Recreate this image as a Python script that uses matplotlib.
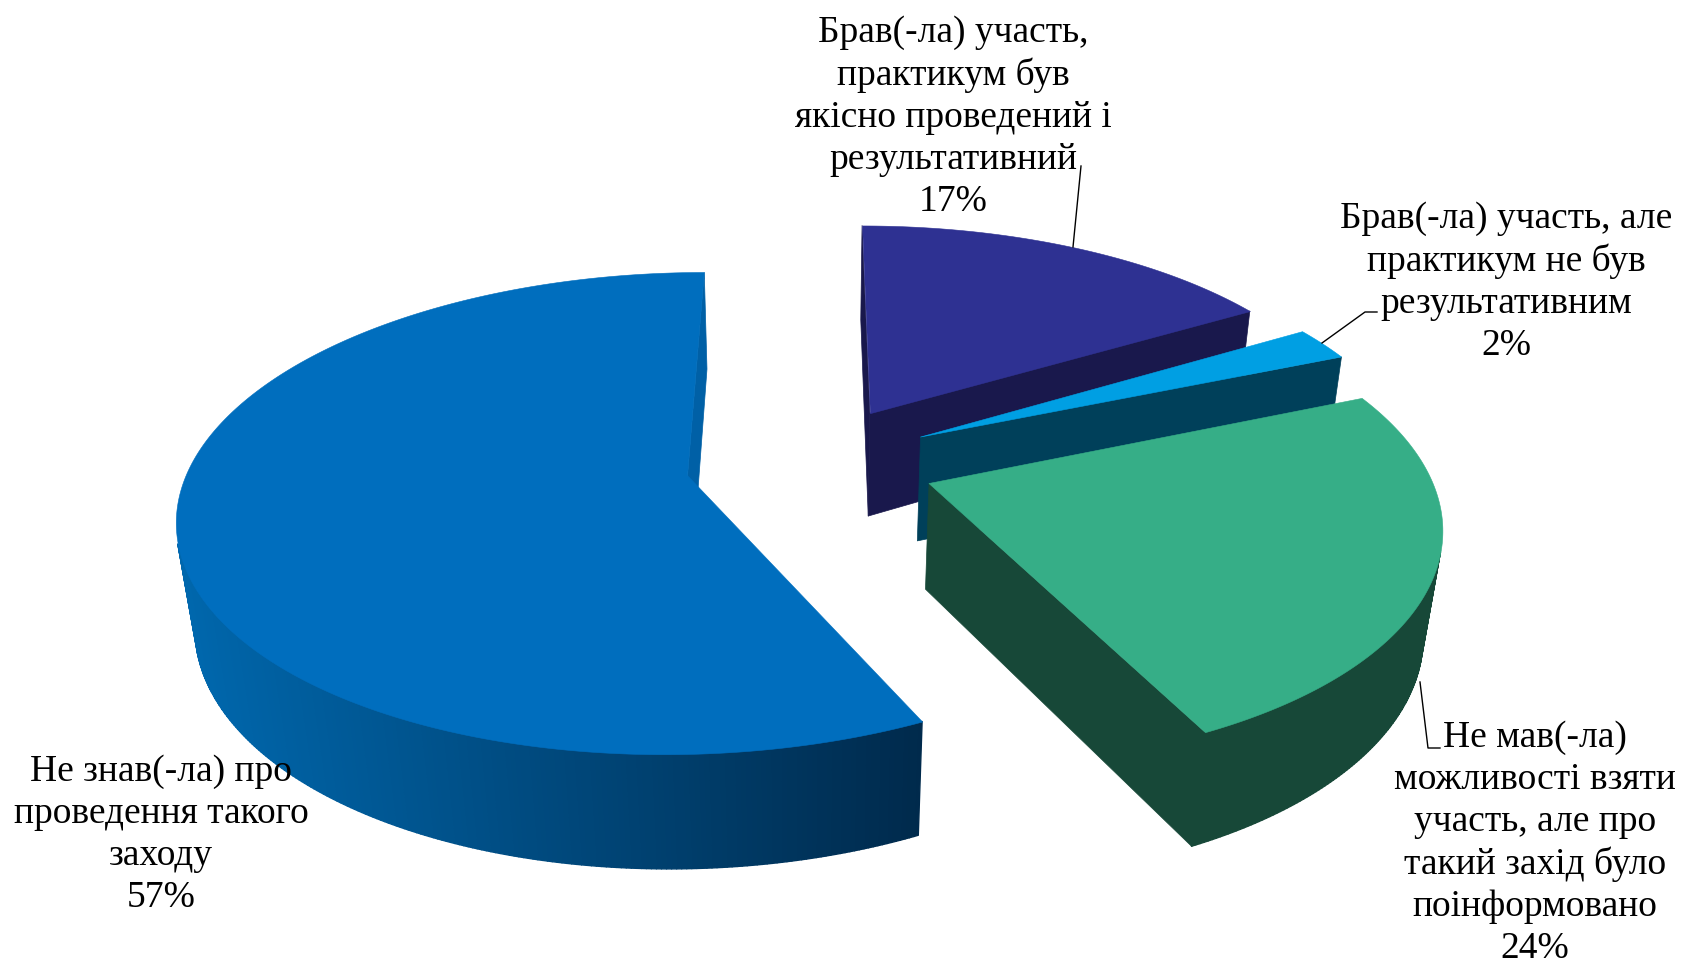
import numpy as np
import matplotlib
matplotlib.use('Agg')
import matplotlib.pyplot as plt
from matplotlib.collections import PolyCollection
from matplotlib.colors import to_rgb

# shares in drawing order, clockwise from 12 o'clock
shares = [16.5, 2.3, 24.0, 57.2]
percent_labels = ['17%', '2%', '24%', '57%']
labels = [
    'Брав(-ла) участь,\nпрактикум був\nякісно проведений і\nрезультативний',
    'Брав(-ла) участь, але\nпрактикум не був\nрезультативним',
    'Не мав(-ла)\nможливості взяти\nучасть, але про\nтакий захід було\nпоінформовано',
    'Не знав(-ла) про\nпроведення такого\nзаходу',
]
top_colors = ['#2E3192', '#009FE3', '#36AE87', '#006EBE']
side_colors = ['#19184C', '#00405A', '#174838', None]
big_side_left = '#0068AE'
big_side_right = '#002A4C'
big_cut = '#0060A6'

# camera
px, py = 810, 462
ax_x, ax_y, ax_z = 497, 231, 108
k_y, k_z = 0.156, 0.03
explode = 0.2516


def project(x, y, z):
    s = 1 / (1 + k_y * y + k_z * z)
    return px + ax_x * x * s, py + (-ax_y * y + ax_z * z) * s


def quad(a, b):
    xa, ya = a
    xb, yb = b
    return [project(xa, ya, 0), project(xb, yb, 0), project(xb, yb, 1), project(xa, ya, 1)]


def facing(q):
    q = np.array(q)
    x, y = q[:, 0], q[:, 1]
    return np.sum(x * np.roll(y, -1) - np.roll(x, -1) * y) < 0


def draw_slice(ax, start, end, top, side):
    mid = np.radians((start + end) / 2)
    cx, cy = explode * np.sin(mid), explode * np.cos(mid)
    th = np.radians(np.linspace(start, end, max(int(end - start) * 2, 8)))
    rim = [(cx + np.sin(t), cy + np.cos(t)) for t in th]

    # walls, only those turned to the camera
    cuts = [quad((cx, cy), rim[0]), quad(rim[-1], (cx, cy))]
    cuts = [w for w in cuts if facing(w)]
    walls = [quad(a, b) for a, b in zip(rim[:-1], rim[1:])]
    walls = [w for w in walls if facing(w)]
    if side is None:
        left, right = np.array(to_rgb(big_side_left)), np.array(to_rgb(big_side_right))
        colors = []
        for w in walls:
            f = np.clip((np.mean([p[0] for p in w]) - 180) / 740, 0, 1)
            colors.append(left + (right - left) * f)
        cut_color = big_cut
    else:
        colors = [side] * len(walls)
        cut_color = side
    ax.add_collection(PolyCollection(cuts, facecolors=cut_color, edgecolors=cut_color, linewidths=0.5))
    ax.add_collection(PolyCollection(walls, facecolors=colors, edgecolors=colors, linewidths=1.0))

    outline = [project(cx, cy, 0)] + [project(x, y, 0) for x, y in rim]
    ax.add_collection(PolyCollection([outline], facecolors=top, edgecolors=top, linewidths=0.4))


plt.rcParams['font.family'] = ['Liberation Serif', 'DejaVu Serif']
fig = plt.figure(figsize=(16.82, 9.66), dpi=100)
ax = fig.add_axes([0, 0, 1, 1])
ax.set_xlim(0, 1682)
ax.set_ylim(966, 0)
ax.axis('off')

edges = np.cumsum([0] + shares) / sum(shares) * 360
for i in range(len(shares)):
    draw_slice(ax, edges[i], edges[i + 1], top_colors[i], side_colors[i])

# leader lines
ax.plot([1081, 1073], [166, 247], color='black', lw=1)
ax.plot([1377, 1365, 1322], [312, 312, 343], color='black', lw=1)
ax.plot([1420, 1428, 1440], [682, 748, 748], color='black', lw=1)

# labels
label_pos = [(953, 117), (1506, 282), (1535, 843), (161, 835)]
for (x, y), text, pct in zip(label_pos, labels, percent_labels):
    ax.text(x, y, text + '\n' + pct, ha='center', va='center', fontsize=27, color='black',
            linespacing=1.28, zorder=5)

fig.savefig('out.png', dpi=100)
